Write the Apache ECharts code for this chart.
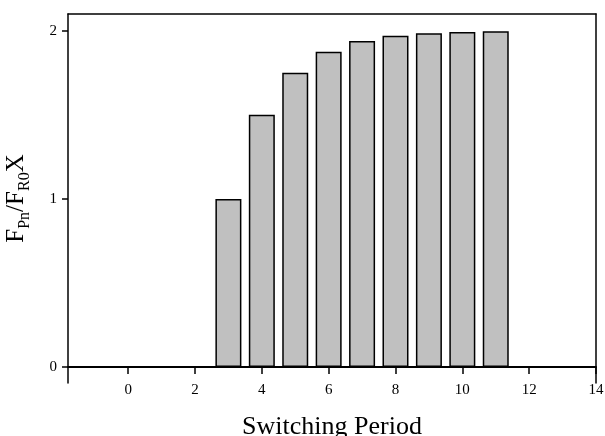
<!DOCTYPE html>
<html>
<head>
<meta charset="utf-8">
<script src="https://cdn.jsdelivr.net/npm/echarts@6/dist/echarts.min.js"></script>
<style>
  html, body { margin: 0; padding: 0; background: #fff; }
  #chart { width: 605px; height: 436px; }
</style>
</head>
<body>
<div id="chart"></div>
<script>
// switching periods and the normalised ratio
const periods = [3, 4, 5, 6, 7, 8, 9, 10, 11];
const ratios = [1.0, 1.5, 1.75, 1.875, 1.94, 1.97, 1.985, 1.993, 1.997];
const xTicks = [0, 2, 4, 6, 8, 10, 12, 14];
const yTicks = [0, 1, 2];

const FONT = '"Liberation Serif", "DejaVu Serif", serif';

const chart = echarts.init(document.getElementById('chart'));

chart.setOption({
  animation: false,
  grid: { left: 68, right: 9, top: 14, bottom: 53, outerBoundsMode: 'none' },
  xAxis: [
    {
      type: 'value',
      min: -1.8,
      max: 14,
      splitLine: { show: false },
      axisLine: { onZero: true, lineStyle: { color: '#000', width: 2 } },
      axisTick: { customValues: xTicks, length: 7, lineStyle: { color: '#000', width: 1.5 } },
      // labels/name are laid out from the grid bottom, not the zero line
      axisLabel: { customValues: xTicks, color: '#000', fontFamily: FONT, fontSize: 15, margin: 0 },
      name: 'Switching Period',
      nameLocation: 'middle',
      nameGap: 31,
      nameMoveOverlap: false,
      nameTextStyle: { color: '#000', fontFamily: FONT, fontSize: 26, verticalAlign: 'top' },
    },
    {
      // top frame line
      type: 'value',
      position: 'top',
      min: -1.8,
      max: 14,
      splitLine: { show: false },
      axisLine: { onZero: false, lineStyle: { color: '#000', width: 1.5 } },
      axisTick: { show: false },
      axisLabel: { show: false },
    },
  ],
  yAxis: [
    {
      type: 'value',
      min: -0.095,
      max: 2.1,
      splitLine: { show: false },
      axisLine: { onZero: false, lineStyle: { color: '#000', width: 1.5 } },
      axisTick: { customValues: yTicks, length: 6, lineStyle: { color: '#000', width: 1.5 } },
      axisLabel: { customValues: yTicks, color: '#000', fontFamily: FONT, fontSize: 15, margin: 11 },
      name: '{a|F}{s|Pn}{a|/F}{s|R0}{a|X}',
      nameLocation: 'middle',
      nameRotate: 90,
      nameGap: 39,
      nameMoveOverlap: false,
      nameTextStyle: {
        rich: {
          a: { color: '#000', fontFamily: FONT, fontSize: 25, verticalAlign: 'bottom', lineHeight: 30 },
          s: { color: '#000', fontFamily: FONT, fontSize: 16, verticalAlign: 'bottom', lineHeight: 20, padding: [0, 0, -4, 0] },
        },
      },
    },
    {
      // right frame line
      type: 'value',
      position: 'right',
      min: -0.095,
      max: 2.1,
      splitLine: { show: false },
      axisLine: { onZero: false, lineStyle: { color: '#000', width: 1.5 } },
      axisTick: { show: false },
      axisLabel: { show: false },
    },
  ],
  series: [
    {
      type: 'bar',
      data: periods.map((p, i) => [p, ratios[i]]),
      barWidth: 26,
      itemStyle: { color: '#c0c0c0', borderColor: '#000', borderWidth: 1.5 },
    },
  ],
});
</script>
</body>
</html>
